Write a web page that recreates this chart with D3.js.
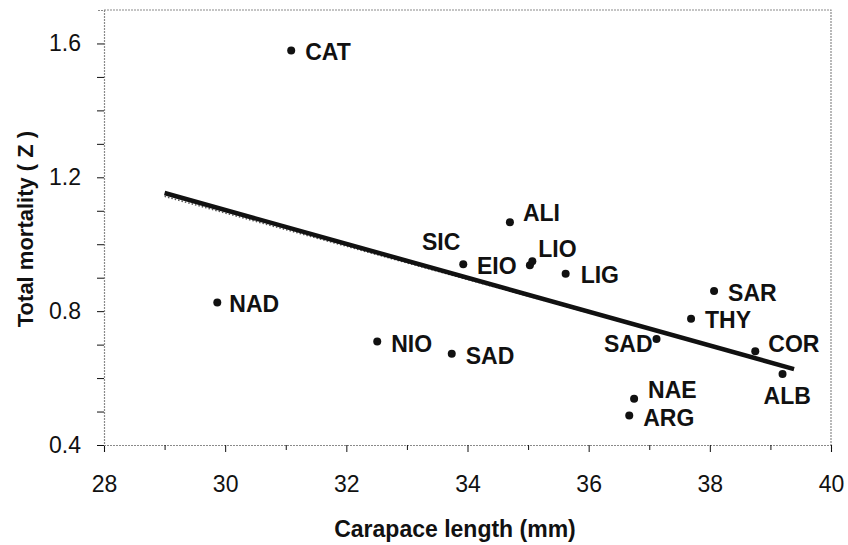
<!DOCTYPE html>
<html>
<head>
<meta charset="utf-8">
<script src="https://cdn.jsdelivr.net/npm/d3@7"></script>
<style>
  html, body { margin: 0; padding: 0; background: #fff; }
  svg { display: block; font-family: "Liberation Sans", Arial, sans-serif; }
</style>
</head>
<body>
<svg id="chart" width="848" height="545"></svg>
<script>
  // 各站点的数据
  const sites = ['CAT', 'NAD', 'NIO', 'SAD', 'SIC', 'EIO', 'ALI', 'LIO', 'LIG', 'SAR', 'THY', 'SAD', 'COR', 'ALB', 'NAE', 'ARG']
  const carapace = [31.09, 29.87, 32.51, 33.74, 33.93, 35.03, 34.70, 35.07, 35.62, 38.07, 37.69, 37.12, 38.75, 39.20, 36.75, 36.67]
  const mortality = [1.579, 0.826, 0.709, 0.673, 0.940, 0.937, 1.066, 0.949, 0.912, 0.860, 0.777, 0.717, 0.680, 0.612, 0.538, 0.488]

  // 回归直线的两端
  const fitX = [29.0, 39.39]
  const fitY = [1.153, 0.627]
  const fitY2 = [1.143, 0.627]

  const xTicks = [28, 30, 32, 34, 36, 38, 40]
  const yTicks = [0.4, 0.8, 1.2, 1.6]

  // 标签相对于点的偏移 [dx, dy, anchor]
  const labelPos = [
    [14, 10, 'start'], [12, 10, 'start'], [14, 10, 'start'], [14, 10, 'start'],
    [-3, -14, 'end'], [-53, 9, 'start'], [13, -1, 'start'], [6, -4, 'start'],
    [15, 9, 'start'], [14, 10, 'start'], [14, 9, 'start'], [-4, 13, 'end'],
    [13, 1, 'start'], [-19, 30, 'start'], [14, -1, 'start'], [14, 10, 'start']
  ]

  ;(function () {
    const left = 104
    const right = 831
    const top = 10
    const bottom = 445
    const ink = '#111'
    const frame = '#8a8a8a'

    const svg = d3.select('#chart')

    const x = d3.scaleLinear().domain([28, 40]).range([left, right])
    const y = d3.scaleLinear().domain([0.4, 1.7]).range([bottom, top])

    // 上边和右边的边框
    svg.append('path')
       .attr('d', `M${left},${top}H${right}V${bottom}`)
       .attr('fill', 'none')
       .attr('stroke', frame)
       .attr('stroke-width', 1.2)
       .attr('stroke-dasharray', '2,1')

    const xAxis = d3.axisBottom(x)
                    .tickValues(d3.range(28, 40.5, 1))
                    .tickSize(7)
                    .tickFormat(d => xTicks.includes(d) ? d : '')
    const gx = svg.append('g')
                  .attr('transform', `translate(0,${bottom})`)
                  .call(xAxis)
    gx.selectAll('.tick line').attr('stroke', ink).attr('stroke-width', 1)
    gx.selectAll('.tick').filter(d => !xTicks.includes(d)).select('line').attr('y2', 5)
    gx.selectAll('text')
      .attr('fill', ink)
      .attr('y', 31)
      .style('font-size', '23px')

    const yAxis = d3.axisLeft(y)
                    .tickValues(d3.range(4, 17, 1).map(d => d / 10))
                    .tickSize(7)
                    .tickFormat(d => yTicks.some(t => Math.abs(t - d) < 1e-6) ? d.toFixed(1) : '')
    const gy = svg.append('g')
                  .attr('transform', `translate(${left},0)`)
                  .call(yAxis)
    gy.selectAll('.tick line').attr('stroke', ink).attr('stroke-width', 1)
    gy.selectAll('text')
      .attr('fill', ink)
      .attr('x', -23)
      .style('font-size', '23px')

    svg.selectAll('.domain')
       .attr('stroke', frame)
       .attr('stroke-width', 1.2)
       .attr('stroke-dasharray', '2,1')

    // 回归线：下面一条细点线，上面一条粗线
    const line = d3.line().x(d => x(d[0])).y(d => y(d[1]))
    svg.append('path')
       .attr('d', line(d3.zip(fitX, fitY2)))
       .attr('fill', 'none')
       .attr('stroke', '#555')
       .attr('stroke-width', 1.5)
       .attr('stroke-dasharray', '1.5,2')
    svg.append('path')
       .attr('d', line(d3.zip(fitX, fitY)))
       .attr('fill', 'none')
       .attr('stroke', ink)
       .attr('stroke-width', 4.5)

    const pts = svg.append('g')
                   .selectAll('g')
                   .data(sites.map((s, i) => ({ name: s, cx: carapace[i], z: mortality[i], pos: labelPos[i] })))
                   .join('g')
                   .attr('transform', d => `translate(${x(d.cx)},${y(d.z)})`)
    pts.append('circle')
       .attr('r', 4)
       .attr('fill', ink)
    pts.append('text')
       .attr('x', d => d.pos[0])
       .attr('y', d => d.pos[1])
       .attr('text-anchor', d => d.pos[2])
       .attr('fill', ink)
       .style('font-size', '23px')
       .style('font-weight', 'bold')
       .text(d => d.name)

    svg.append('text')
       .attr('x', 455)
       .attr('y', 537)
       .attr('text-anchor', 'middle')
       .attr('fill', ink)
       .style('font-size', '23px')
       .style('font-weight', 'bold')
       .text('Carapace length (mm)')

    svg.append('text')
       .attr('transform', `translate(33,229) rotate(-90)`)
       .attr('text-anchor', 'middle')
       .attr('fill', ink)
       .style('font-size', '22px')
       .style('font-weight', 'bold')
       .text('Total mortality ( Z )')
  })()
</script>
</body>
</html>
